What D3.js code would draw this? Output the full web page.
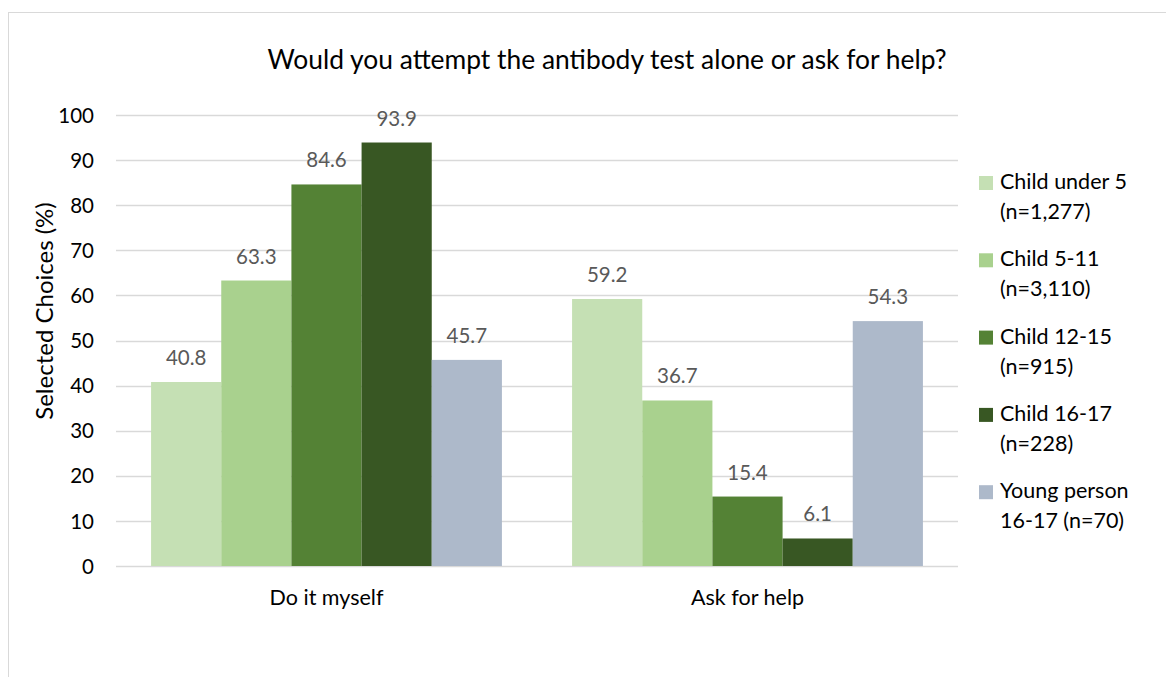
<!DOCTYPE html>
<html>
<head>
<meta charset="utf-8">
<script src="https://cdn.jsdelivr.net/npm/d3@7"></script>
<style>
  html, body { margin: 0; padding: 0; background: #ffffff; }
  svg { display: block; font-family: Lato, "Open Sans", sans-serif; }
</style>
</head>
<body>
<svg id="chart" width="1166" height="677"></svg>
<script>
// Answer categories along the x axis
const categories = ["Do it myself", "Ask for help"];

// Respondent groups (legend entries, split over two lines)
const seriesNames = [
  ["Child under 5", "(n=1,277)"],
  ["Child 5-11", "(n=3,110)"],
  ["Child 12-15", "(n=915)"],
  ["Child 16-17", "(n=228)"],
  ["Young person", "16-17 (n=70)"]
];

// Percentages per group, one value per category
const childUnder5   = [40.8, 59.2];
const child5to11    = [63.3, 36.7];
const child12to15   = [84.6, 15.4];
const child16to17   = [93.9, 6.1];
const youngPerson   = [45.7, 54.3];

const yTicks = [0, 10, 20, 30, 40, 50, 60, 70, 80, 90, 100];
const colors = ["#c5e0b4", "#a9d18e", "#548235", "#385723", "#adb9ca"];

const seriesValues = [childUnder5, child5to11, child12to15, child16to17, youngPerson];

const svg = d3.select("#chart");

// outer chart frame
svg.append("rect")
  .attr("x", 8.5).attr("y", 12.5)
  .attr("width", 1170).attr("height", 680)
  .attr("fill", "#fff").attr("stroke", "#d9d9d9").attr("stroke-width", 1);

const plot = { left: 116, right: 958, top: 115, bottom: 566 };

const x0 = d3.scaleBand().domain(categories).range([plot.left, plot.right]).paddingInner(1/6).paddingOuter(1/12);
const x1 = d3.scaleBand().domain(d3.range(seriesValues.length)).range([0, x0.bandwidth()]);
const y = d3.scaleLinear().domain([0, 100]).range([plot.bottom, plot.top]);

// gridlines
svg.append("g").selectAll("line").data(yTicks).join("line")
  .attr("x1", plot.left).attr("x2", plot.right)
  .attr("y1", d => Math.round(y(d)) + 0.5).attr("y2", d => Math.round(y(d)) + 0.5)
  .attr("stroke", "#d9d9d9").attr("stroke-width", 1.5);

// y axis tick labels
const yAxis = d3.axisLeft(y).tickValues(yTicks).tickSize(0).tickPadding(0);
const yg = svg.append("g").attr("transform", `translate(${plot.left - 22},0)`).call(yAxis);
yg.select(".domain").remove();
yg.selectAll("text").attr("font-size", 20.5).attr("fill", "#000").attr("font-family", "Lato, sans-serif").attr("dy", "0.35em");

// bars
const groups = svg.append("g").selectAll("g").data(categories).join("g")
  .attr("transform", c => `translate(${x0(c)},0)`);

groups.selectAll("rect")
  .data((c, ci) => seriesValues.map((vals, si) => ({ si, v: vals[ci] })))
  .join("rect")
  .attr("x", d => x1(d.si))
  .attr("width", x1.bandwidth())
  .attr("y", d => y(d.v))
  .attr("height", d => y(0) - y(d.v))
  .attr("fill", d => colors[d.si]);

// value labels
groups.selectAll("text.val")
  .data((c, ci) => seriesValues.map((vals, si) => ({ si, v: vals[ci] })))
  .join("text")
  .attr("class", "val")
  .attr("x", d => x1(d.si) + x1.bandwidth() / 2)
  .attr("y", d => y(d.v) - 17)
  .attr("text-anchor", "middle")
  .attr("font-size", 20.5)
  .attr("fill", "#595959")
  .text(d => d.v.toFixed(1));

// x axis labels
const xAxis = d3.axisBottom(x0).tickSize(0).tickPadding(0);
const xg = svg.append("g").attr("transform", `translate(0,${plot.bottom})`).call(xAxis);
xg.select(".domain").remove();
xg.selectAll("text").attr("font-size", 21.5).attr("fill", "#000").attr("font-family", "Lato, sans-serif")
  .attr("y", 39).attr("dy", 0);

// y axis title
svg.append("text")
  .attr("transform", `translate(53,311) rotate(-90)`)
  .attr("text-anchor", "middle")
  .attr("font-size", 24)
  .attr("fill", "#000")
  .text("Selected Choices (%)");

// chart title
svg.append("text")
  .attr("x", 607).attr("y", 69)
  .attr("text-anchor", "middle")
  .attr("font-size", 26.4)
  .attr("fill", "#000")
  .text("Would you attempt the antibody test alone or ask for help?");

// legend
const legend = svg.append("g").selectAll("g").data(seriesNames).join("g")
  .attr("transform", (d, i) => `translate(979,${176 + i * 77.3})`);
legend.append("rect")
  .attr("x", 0).attr("y", 0).attr("width", 14).attr("height", 14)
  .attr("fill", (d, i) => colors[i]);
legend.append("text")
  .attr("x", 21).attr("y", 13)
  .attr("font-size", 21.5).attr("fill", "#000")
  .selectAll("tspan").data(d => d).join("tspan")
  .attr("x", 21).attr("dy", (d, i) => i === 0 ? 0 : 30)
  .text(d => d);
</script>
</body>
</html>
